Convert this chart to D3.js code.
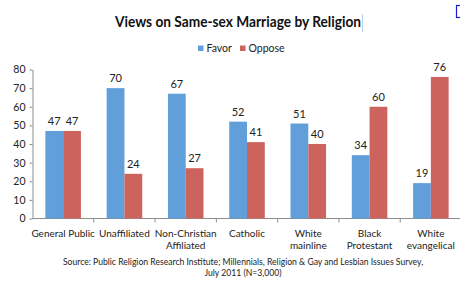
<!DOCTYPE html>
<html>
<head>
<meta charset="utf-8">
<script src="https://cdn.jsdelivr.net/npm/d3@7"></script>
<style>
  body { margin: 0; background: #fff; }
  svg { display: block; font-family: Lato, "Open Sans", sans-serif; }
</style>
</head>
<body>
<div id="chart"></div>
<script>
// data
const categories = ["General Public", "Unaffiliated", "Non-Christian\nAffiliated", "Catholic",
                    "White\nmainline", "Black\nProtestant", "White\nevangelical"];
const seriesNames = ["Favor", "Oppose"];
const favor = [47, 70, 67, 52, 51, 34, 19];
const oppose = [47, 24, 27, 41, 40, 60, 76];
const yTicks = [0, 10, 20, 30, 40, 50, 60, 70, 80];
const colors = ["#619fdb", "#cc635c"];

const width = 460, height = 290;

const svg = d3.select("#chart")
    .append("svg")
    .attr("width", width)
    .attr("height", height);

// scales
const x = d3.scaleBand()
    .domain(categories)
    .range([32.5, 461.5])
    .padding(0);

const xSub = d3.scaleBand()
    .domain(seriesNames)
    .range([x.bandwidth() * 0.21, x.bandwidth() * 0.79])
    .padding(0);

const y = d3.scaleLinear()
    .domain([0, 80])
    .range([218.5, 69.5]);

const color = d3.scaleOrdinal().domain(seriesNames).range(colors);

// title
svg.append("text")
    .attr("x", 238)
    .attr("y", 27)
    .attr("text-anchor", "middle")
    .attr("textLength", 246)
    .attr("lengthAdjust", "spacingAndGlyphs")
    .style("font-size", "15px")
    .style("font-weight", "bold")
    .style("fill", "#111")
    .text("Views on Same-sex Marriage by Religion");

// little cursor mark after the title
svg.append("line")
    .attr("x1", 362.5).attr("x2", 362.5)
    .attr("y1", 14).attr("y2", 32)
    .style("stroke", "#b8d0ea");

// corner icon
svg.append("rect")
    .attr("x", 456.5).attr("y", 5.5)
    .attr("width", 6).attr("height", 12)
    .style("fill", "none")
    .style("stroke", "#1a1adb")
    .style("stroke-width", 1.2);

// legend
const legend = svg.append("g");
const legendX = [198, 240];
seriesNames.forEach((s, i) => {
    legend.append("rect")
        .attr("x", legendX[i]).attr("y", 45.5)
        .attr("width", 5.5).attr("height", 5.5)
        .style("fill", color(s));
    legend.append("text")
        .attr("x", legendX[i] + 8.5)
        .attr("y", 52)
        .style("font-size", "10.5px")
        .style("fill", "#222")
        .text(s);
});

// y axis
const yAxis = svg.append("g")
    .attr("transform", "translate(32.5,0)")
    .call(d3.axisLeft(y).tickValues(yTicks).tickSize(3).tickSizeOuter(0));
yAxis.select(".domain").style("stroke", "#8c8c8c");
yAxis.selectAll(".tick line").style("stroke", "#8c8c8c");
yAxis.selectAll(".tick text")
    .attr("x", -7)
    .style("font-family", "Lato, sans-serif")
    .style("font-size", "10.5px")
    .style("fill", "#222");

// x axis line and ticks between categories
svg.append("line")
    .attr("x1", 32.5).attr("x2", 461.5)
    .attr("y1", y(0)).attr("y2", y(0))
    .style("stroke", "#8c8c8c");

svg.append("g")
    .selectAll("line")
    .data(categories)
    .join("line")
    .attr("x1", d => x(d) + x.bandwidth())
    .attr("x2", d => x(d) + x.bandwidth())
    .attr("y1", y(0))
    .attr("y2", y(0) + 4)
    .style("stroke", "#8c8c8c");

// bars
const rows = categories.map((c, i) => ({cat: c, values: [
    {series: "Favor", value: favor[i]},
    {series: "Oppose", value: oppose[i]}
]}));

const groups = svg.append("g")
    .selectAll("g")
    .data(rows)
    .join("g")
    .attr("transform", d => `translate(${x(d.cat)},0)`);

groups.selectAll("rect")
    .data(d => d.values)
    .join("rect")
    .attr("x", d => xSub(d.series))
    .attr("y", d => y(d.value))
    .attr("width", xSub.bandwidth())
    .attr("height", d => y(0) - y(d.value))
    .style("fill", d => color(d.series));

// value labels
groups.selectAll("text")
    .data(d => d.values)
    .join("text")
    .attr("x", d => xSub(d.series) + xSub.bandwidth() / 2)
    .attr("y", d => y(d.value) - 6)
    .attr("text-anchor", "middle")
    .style("font-size", "11px")
    .style("fill", "#222")
    .text(d => d.value);

// category labels
const catLabels = svg.append("g")
    .selectAll("text")
    .data(categories)
    .join("text")
    .attr("x", d => x(d) + x.bandwidth() / 2)
    .attr("y", 237)
    .attr("text-anchor", "middle")
    .style("font-size", "10px")
    .style("fill", "#222");

catLabels.selectAll("tspan")
    .data(d => d.split("\n"))
    .join("tspan")
    .attr("x", function () { return d3.select(this.parentNode).attr("x"); })
    .attr("dy", (d, i) => i === 0 ? 0 : 12)
    .text(d => d);

// source note
const source = ["Source: Public Religion Research Institute; Millennials, Religion & Gay and Lesbian Issues Survey,",
                "July 2011 (N=3,000)"];
svg.append("g")
    .selectAll("text")
    .data(source)
    .join("text")
    .attr("x", 243)
    .attr("y", (d, i) => 265 + i * 11)
    .attr("text-anchor", "middle")
    .style("font-size", "8.6px")
    .style("fill", "#222")
    .text(d => d);
</script>
</body>
</html>
